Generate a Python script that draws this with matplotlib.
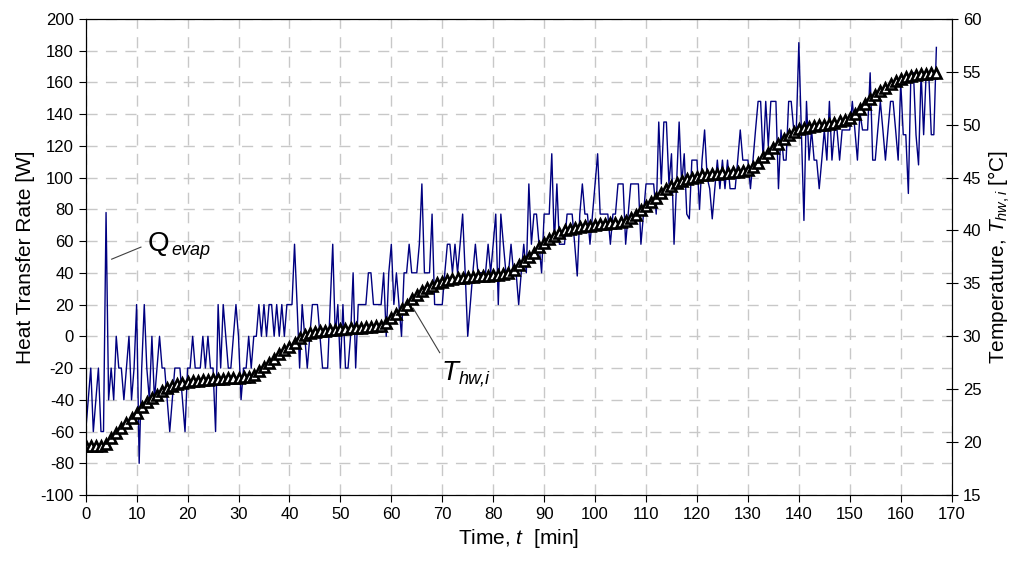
import numpy as np
import matplotlib
matplotlib.use("Agg")
import matplotlib.pyplot as plt

plt.rcParams['font.family'] = ['Liberation Sans', 'DejaVu Sans']
plt.rcParams['mathtext.fontset'] = 'custom'
plt.rcParams['mathtext.rm'] = 'Liberation Sans'
plt.rcParams['mathtext.it'] = 'Liberation Sans:italic'
plt.rcParams['axes.unicode_minus'] = False

# Q_evap, one reading every 0.5 min from 0 to 167 min [W]
q_time = np.arange(0, 167.5, 0.5)
q_evap = [
    -60, -40, -20, -60, -40, -20, -60, -60, 78, -40, -20, -40, 0, -20, -20, -40, -20, 0, -40, -20,
    20, -80, -20, 20, -20, -40, 0, -40, -20, 0, -20, -20, -40, -60, -40, -20, -20, -20, -40, -60,
    -20, -20, 0, -20, -20, -20, 0, -20, 0, -20, -20, -60, 20, -20, 20, 0, -20, -20, 0, 20,
    0, -40, -20, -20, 0, -20, 0, 0, 20, 0, 20, 0, 20, 20, 0, 20, 0, 20, 0, 20,
    20, 20, 58, 20, -20, 20, 0, -20, 0, 20, 20, 20, 0, -20, -20, -20, 20, 58, 0, 20,
    -20, 20, -20, -20, 0, 40, -20, 20, 20, 20, 20, 40, 40, 20, 20, 20, 20, 40, 0, 40,
    58, 20, 40, 20, 0, 40, 40, 58, 40, 40, 40, 58, 96, 40, 40, 40, 77, 20, 20, 20,
    20, 40, 58, 58, 40, 58, 40, 58, 77, 40, 0, 20, 40, 58, 40, 40, 40, 40, 58, 40,
    58, 77, 20, 77, 58, 40, 40, 58, 40, 40, 20, 40, 58, 40, 96, 58, 77, 77, 58, 40,
    77, 77, 77, 115, 58, 96, 58, 58, 58, 77, 77, 77, 58, 38, 77, 96, 77, 77, 58, 77,
    96, 115, 77, 77, 77, 77, 58, 77, 77, 96, 96, 96, 58, 77, 96, 96, 96, 96, 58, 77,
    96, 96, 96, 96, 77, 135, 96, 135, 135, 96, 115, 58, 96, 135, 96, 115, 77, 74, 111, 111,
    111, 80, 111, 130, 100, 93, 74, 93, 111, 93, 111, 93, 111, 93, 93, 93, 111, 130, 111, 111,
    111, 93, 111, 130, 148, 148, 111, 148, 120, 148, 148, 148, 93, 130, 111, 111, 148, 148, 130, 130,
    185, 130, 73, 148, 111, 130, 111, 111, 93, 111, 130, 111, 148, 111, 130, 130, 111, 130, 130, 130,
    130, 148, 130, 111, 141, 130, 130, 130, 166, 111, 111, 130, 148, 130, 111, 130, 148, 148, 130, 111,
    160, 127, 127, 90, 166, 166, 127, 108, 166, 127, 166, 166, 127, 127, 182,
]

# T_hw,i, one reading per minute from 0 to 167 min [C]
t_time = np.arange(0, 168, 1)
t_hw = [
    19.6, 19.6, 19.6, 19.6, 19.8, 20.4, 20.9, 21.3, 21.8, 22.3,
    22.8, 23.3, 23.8, 24.2, 24.5, 24.8, 25.1, 25.3, 25.5, 25.6,
    25.7, 25.8, 25.8, 25.9, 25.9, 26.0, 26.0, 26.0, 26.1, 26.1,
    26.1, 26.2, 26.2, 26.3, 26.7, 27.1, 27.5, 27.9, 28.3, 28.7,
    29.0, 29.4, 29.8, 30.1, 30.3, 30.4, 30.5, 30.5, 30.6, 30.6,
    30.7, 30.7, 30.8, 30.8, 30.8, 30.9, 30.9, 31.0, 31.0, 31.3,
    31.7, 32.1, 32.6, 33.0, 33.5, 33.9, 34.3, 34.6, 34.8, 35.0,
    35.1, 35.3, 35.4, 35.5, 35.5, 35.6, 35.6, 35.7, 35.7, 35.7,
    35.8, 35.8, 35.9, 36.0, 36.3, 36.7, 37.1, 37.5, 37.9, 38.4,
    38.8, 39.2, 39.5, 39.8, 40.0, 40.1, 40.2, 40.3, 40.4, 40.4,
    40.5, 40.6, 40.6, 40.7, 40.7, 40.8, 40.9, 41.2, 41.5, 41.9,
    42.3, 42.7, 43.1, 43.5, 43.9, 44.2, 44.5, 44.7, 44.9, 45.0,
    45.1, 45.2, 45.2, 45.3, 45.3, 45.4, 45.4, 45.5, 45.5, 45.6,
    45.7, 46.0, 46.4, 46.9, 47.3, 47.8, 48.2, 48.6, 49.0, 49.3,
    49.6, 49.7, 49.8, 49.9, 50.0, 50.0, 50.1, 50.2, 50.3, 50.4,
    50.6, 51.0, 51.5, 52.0, 52.4, 52.8, 53.2, 53.5, 53.8, 54.1,
    54.3, 54.5, 54.6, 54.7, 54.8, 54.8, 54.9, 54.9,
]

fig = plt.figure(figsize=(10.2, 5.71), dpi=100)
ax = fig.add_axes([0.084, 0.133, 0.849, 0.834])
ax2 = ax.twinx()

ax.plot(q_time, q_evap, color='#000080', lw=1.0)
ax2.plot(t_time, t_hw, color='black', lw=1.2, marker='^', ms=7,
         mfc='white', mec='black', mew=1.9)

ax.set_xlim(0, 170)
ax.set_ylim(-100, 200)
ax.set_xticks(np.arange(0, 171, 10))
ax.set_yticks(np.arange(-100, 201, 20))
ax2.set_ylim(15, 60)
ax2.set_yticks(np.arange(15, 61, 5))

ax.grid(True, color='#c8c8c8', linestyle=(0, (8, 6)), lw=1.0)
ax.set_axisbelow(True)

ax.tick_params(axis='both', labelsize=12, direction='out', length=5, color='black')
ax2.tick_params(axis='y', labelsize=12, direction='inout', length=9)

ax.set_xlabel('Time, $t$  [min]', fontsize=15)
ax.set_ylabel('Heat Transfer Rate [W]', fontsize=15)
ax2.set_ylabel('Temperature, $T_{hw,i}$ [°C]', fontsize=15)

# labels on the curves
ax.plot([5.1, 10.85], [48.6, 56.2], color='#404040', lw=0.8)
ax.text(12.2, 54, 'Q', fontsize=20, va='baseline')
ax.text(16.9, 51, 'evap', fontsize=13, style='italic', va='baseline')
ax.plot([64.3, 69.5], [17.7, -10.3], color='#404040', lw=0.8)
ax.text(69.9, -27.5, 'T', fontsize=20, style='italic', va='baseline')
ax.text(73.3, -29.5, 'hw,i', fontsize=13, style='italic', va='baseline')

fig.savefig('out.png', dpi=100)
